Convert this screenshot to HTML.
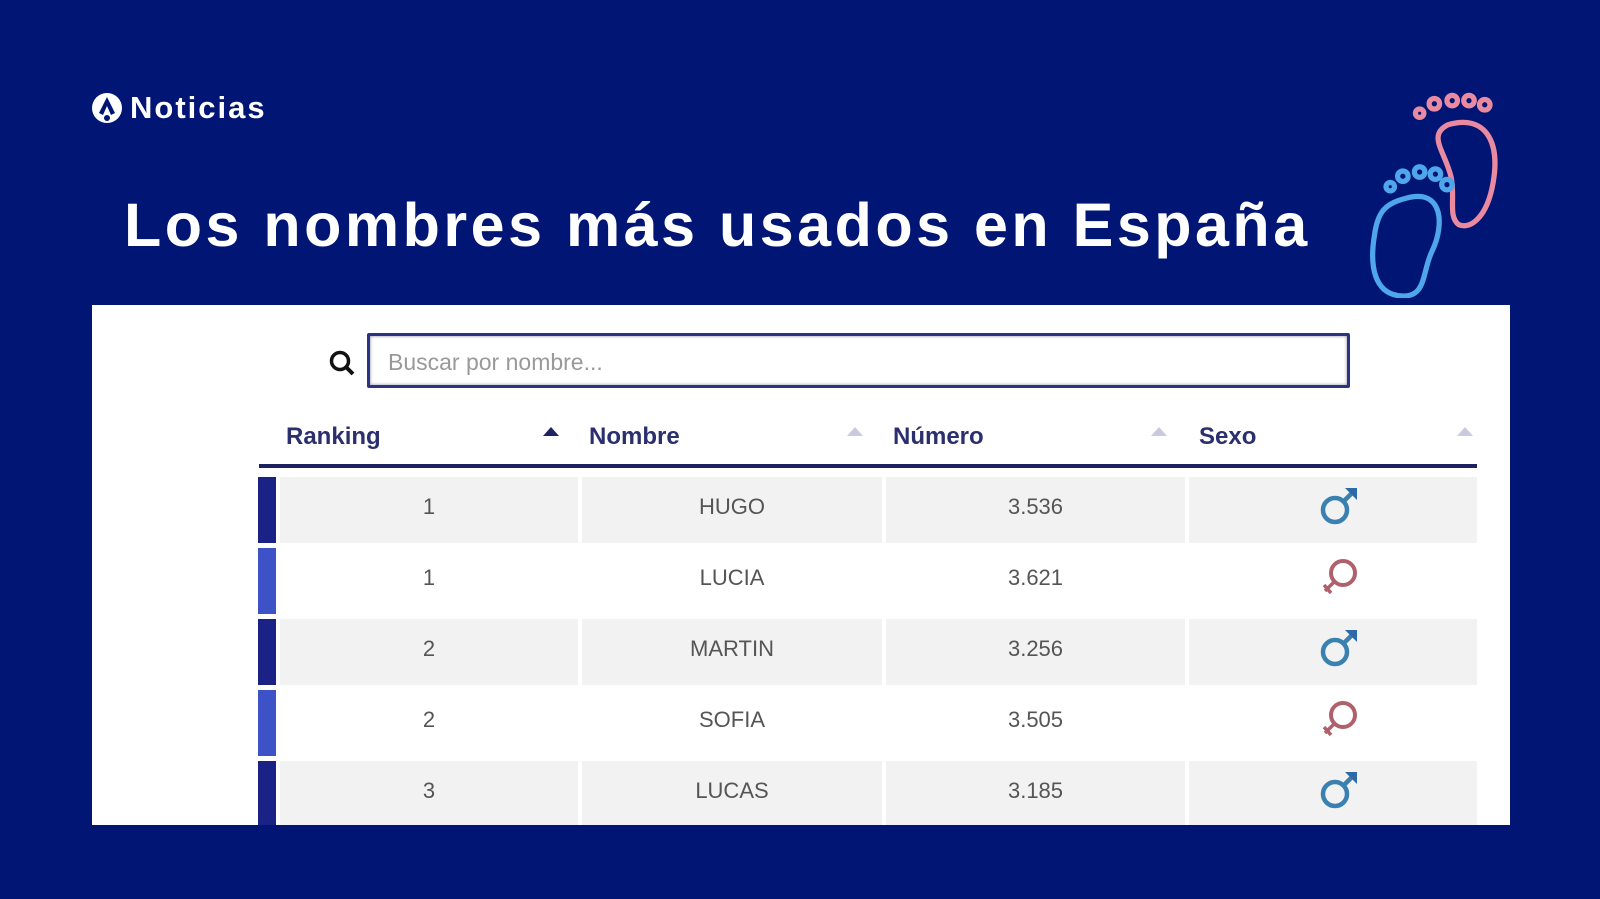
<!DOCTYPE html>
<html><head><meta charset="utf-8"><style>
body{margin:0;width:1600px;height:899px;background:#011574;position:relative;overflow:hidden;font-family:"Liberation Sans",sans-serif}
.abs{position:absolute}
.panel{left:92px;top:305px;width:1418px;height:520px;background:#fff;overflow:hidden}
.hdr{font-weight:bold;font-size:24px;color:#2b2f6e;top:118px}
.arr{width:0;height:0;border-left:8px solid transparent;border-right:8px solid transparent;border-bottom:9px solid #c8cbe0;top:122px}
.cell{background:#f2f2f2;height:66px}
.txt{font-size:22px;color:#555;text-align:center;line-height:60px;height:66px}
</style></head><body>
<svg class="abs" style="left:90px;top:91px" width="34" height="34" viewBox="0 0 34 34"><circle cx="17" cy="17" r="15" fill="#fff"/><path d="M17 6 L9 22 L13 24 L17 15 L21 24 L25 22Z" fill="#011574"/><circle cx="17" cy="27" r="3" fill="#011574"/></svg>
<div class="abs" style="left:130px;top:90px;color:#fff;font-weight:bold;font-size:31px;letter-spacing:2px">Noticias</div>
<div class="abs" style="left:124px;top:190px;color:#fff;font-weight:bold;font-size:61px;white-space:nowrap;letter-spacing:3.5px">Los nombres más usados en España</div>
<svg class="abs" style="left:1368px;top:88px" width="160" height="210" viewBox="0 0 150 200">
<g fill="none" stroke="#e98aa0" stroke-width="5"><circle cx="62" cy="15" r="5"/><circle cx="79" cy="12" r="5"/><circle cx="95" cy="12" r="5"/><circle cx="110" cy="16" r="5"/><circle cx="48" cy="24" r="4"/>
<path d="M75 35 C110 25 125 50 118 90 C112 125 95 135 85 130 C75 122 82 105 78 85 C72 60 55 45 75 35Z"/></g>
<g fill="none" stroke="#4fa6ea" stroke-width="5"><circle cx="20" cy="94" r="4"/><circle cx="32" cy="84" r="5"/><circle cx="48" cy="80" r="5"/><circle cx="63" cy="82" r="5"/><circle cx="74" cy="92" r="5"/>
<path d="M35 105 C70 95 72 130 60 155 C50 175 55 200 30 198 C5 196 0 170 5 140 C8 118 15 110 35 105Z"/></g>
</svg>
<div class="abs panel">
<svg class="abs" style="left:236px;top:44px" width="30" height="30" viewBox="0 0 30 30"><circle cx="12" cy="12" r="8.5" fill="none" stroke="#111" stroke-width="3.5"/><path d="M18 18 L25 25" stroke="#111" stroke-width="4"/></svg>
<div class="abs" style="left:275px;top:28px;width:977px;height:49px;border:3px solid #2d3282;border-radius:2px;box-shadow:inset 0 0 3px #889"></div>
<div class="abs" style="left:296px;top:44px;font-size:23px;color:#999">Buscar por nombre...</div>
<div class="abs hdr" style="left:194px">Ranking</div>
<div class="abs arr" style="left:451px;border-bottom-color:#1e2260"></div>
<div class="abs hdr" style="left:497px">Nombre</div>
<div class="abs arr" style="left:755px"></div>
<div class="abs hdr" style="left:801px">Número</div>
<div class="abs arr" style="left:1059px"></div>
<div class="abs hdr" style="left:1107px">Sexo</div>
<div class="abs arr" style="left:1365px"></div>
<div class="abs" style="left:167px;top:159px;width:1218px;height:4px;background:#1d2160"></div>
<div class="abs" style="left:166px;top:172px;width:18px;height:66px;background:#1a2285"></div>
<div class="abs" style="left:166px;top:243px;width:18px;height:66px;background:#3d52c6"></div>
<div class="abs" style="left:166px;top:314px;width:18px;height:66px;background:#1a2285"></div>
<div class="abs" style="left:166px;top:385px;width:18px;height:66px;background:#3d52c6"></div>
<div class="abs" style="left:166px;top:456px;width:18px;height:66px;background:#1a2285"></div>
<div class="abs cell" style="left:188px;top:172px;width:298px"></div><div class="abs cell" style="left:490px;top:172px;width:300px"></div><div class="abs cell" style="left:794px;top:172px;width:299px"></div><div class="abs cell" style="left:1097px;top:172px;width:288px"></div>
<div class="abs cell" style="left:188px;top:314px;width:298px"></div><div class="abs cell" style="left:490px;top:314px;width:300px"></div><div class="abs cell" style="left:794px;top:314px;width:299px"></div><div class="abs cell" style="left:1097px;top:314px;width:288px"></div>
<div class="abs cell" style="left:188px;top:456px;width:298px"></div><div class="abs cell" style="left:490px;top:456px;width:300px"></div><div class="abs cell" style="left:794px;top:456px;width:299px"></div><div class="abs cell" style="left:1097px;top:456px;width:288px"></div>
<div class="abs txt" style="left:188px;top:172px;width:298px">1</div><div class="abs txt" style="left:490px;top:172px;width:300px">HUGO</div><div class="abs txt" style="left:794px;top:172px;width:299px">3.536</div>
<div class="abs txt" style="left:188px;top:243px;width:298px">1</div><div class="abs txt" style="left:490px;top:243px;width:300px">LUCIA</div><div class="abs txt" style="left:794px;top:243px;width:299px">3.621</div>
<div class="abs txt" style="left:188px;top:314px;width:298px">2</div><div class="abs txt" style="left:490px;top:314px;width:300px">MARTIN</div><div class="abs txt" style="left:794px;top:314px;width:299px">3.256</div>
<div class="abs txt" style="left:188px;top:385px;width:298px">2</div><div class="abs txt" style="left:490px;top:385px;width:300px">SOFIA</div><div class="abs txt" style="left:794px;top:385px;width:299px">3.505</div>
<div class="abs txt" style="left:188px;top:456px;width:298px">3</div><div class="abs txt" style="left:490px;top:456px;width:300px">LUCAS</div><div class="abs txt" style="left:794px;top:456px;width:299px">3.185</div>
<svg class="abs" style="left:0;top:0" width="1418" height="520">
<defs><g id="m"><circle cx="-4" cy="4" r="12" fill="none" stroke="#3a80b0" stroke-width="4.5"/><path d="M5 -5 L14 -14" stroke="#3a80b0" stroke-width="4.5"/><path d="M6 -18 L18 -18 L18 -6Z" fill="#2d6aa8"/></g>
<g id="f"><circle cx="4" cy="-4" r="12" fill="none" stroke="#b0606a" stroke-width="4"/><path d="M-4 4 L-14 14 M-15 8 L-8 16" stroke="#b0606a" stroke-width="3.5"/></g></defs>
<use href="#m" x="1247" y="201"/><use href="#f" x="1247" y="272"/><use href="#m" x="1247" y="343"/><use href="#f" x="1247" y="414"/><use href="#m" x="1247" y="485"/>
</svg>
</div>
</body></html>
